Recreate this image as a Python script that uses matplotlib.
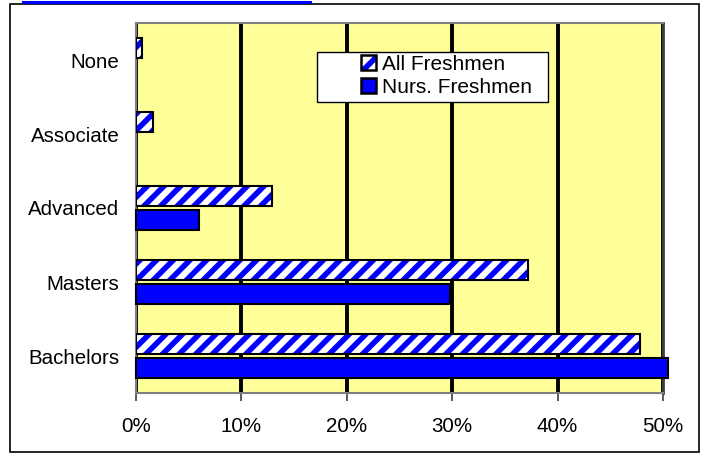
import matplotlib
matplotlib.use('Agg')
import matplotlib.pyplot as plt
from matplotlib.patches import Rectangle, Patch
from matplotlib.lines import Line2D
from matplotlib.ticker import FuncFormatter

plt.rcParams['font.family'] = ['Liberation Sans', 'DejaVu Sans']
plt.rcParams['hatch.linewidth'] = 4

degrees = ['Bachelors', 'Masters', 'Advanced', 'Associate', 'None']
all_freshmen = [47.8, 37.2, 12.9, 1.6, 0.6]
nurs_freshmen = [50.5, 29.8, 6.0, 0.0, 0.0]
series_names = ['All Freshmen', 'Nurs. Freshmen']

W, H = 702, 454
fig = plt.figure(figsize=(W / 100, H / 100), dpi=100)
ax = fig.add_axes([136 / W, 1 - 393 / H, (663 - 136) / W, (393 - 23) / H])
ax.set_facecolor('#FFFF99')

pos = list(range(len(degrees)))
h = 0.27
off = 0.165
y_all = [p + off for p in pos]
y_nurs = [p - off for p in pos]

# hatched bars: hatch takes the edge colour, so draw the black outline separately
ax.barh(y_all, all_freshmen, height=h, color='white', edgecolor='blue',
        hatch='//', linewidth=0, zorder=3)
ax.barh(y_all, all_freshmen, height=h, fill=False, edgecolor='black',
        linewidth=1.5, zorder=4)
ax.barh(y_nurs, nurs_freshmen, height=h, color='blue', edgecolor='black',
        linewidth=[1.5 if v > 0 else 0 for v in nurs_freshmen], zorder=3,
        clip_on=False)

ax.set_xlim(0, 50)
ax.set_ylim(-0.5, len(degrees) - 0.5)
ax.set_xticks([0, 10, 20, 30, 40, 50])
ax.xaxis.set_major_formatter(FuncFormatter(lambda v, p: '%d%%' % v))
ax.set_yticks(pos)
ax.set_yticklabels(degrees)
ax.xaxis.grid(True, color='black', linewidth=2.8)
ax.set_axisbelow(True)

ax.tick_params(axis='x', direction='out', length=6, width=1.2, color='#404040',
               pad=11, labelsize=14.8)
ax.tick_params(axis='y', length=0, pad=12, labelsize=14.8)
for s in ax.spines.values():
    s.set_color('#808080')
    s.set_linewidth(1.5)
ax.spines['right'].set_color('#404040')
ax.spines['right'].set_linewidth(2)

# legend box (Excel style, wider than its contents)
box = Rectangle((317 / W, 1 - 102 / H), (548 - 317) / W, 50 / H,
                transform=fig.transFigure, facecolor='white',
                edgecolor='black', linewidth=1, zorder=10)
fig.add_artist(box)
h_all = (Patch(facecolor='white', edgecolor='blue', hatch='/', linewidth=0),
         Patch(fill=False, edgecolor='black', linewidth=1.8))
h_nurs = Patch(facecolor='blue', edgecolor='black', linewidth=1.8)
leg = fig.legend([h_all, h_nurs], series_names, loc='upper left',
                 bbox_to_anchor=(361 / W, 1 - 55 / H), frameon=False,
                 borderpad=0, borderaxespad=0, handlelength=0.72,
                 handleheight=0.72, handletextpad=0.3, labelspacing=0.2,
                 fontsize=15)
leg.set_zorder(11)

# outer chart border and the blue line at the top
fig.add_artist(Rectangle((10 / W, 1 - 452 / H), 689 / W, 448 / H, fill=False,
                         edgecolor='black', linewidth=1.2,
                         transform=fig.transFigure))
fig.add_artist(Line2D([23 / W, 310 / W], [1 - 1.5 / H, 1 - 1.5 / H],
                      color='blue', linewidth=2.2, transform=fig.transFigure))

fig.savefig('out.png', dpi=100)
